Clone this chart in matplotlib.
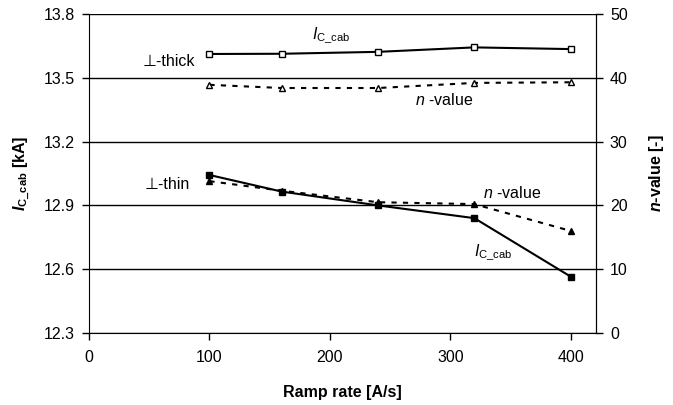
import matplotlib.pyplot as plt

plt.rcParams['font.family'] = ['Liberation Sans', 'DejaVu Sans']
plt.rcParams['mathtext.fontset'] = 'custom'
plt.rcParams['mathtext.rm'] = 'Liberation Sans'
plt.rcParams['mathtext.it'] = 'Liberation Sans:italic'
plt.rcParams['mathtext.bf'] = 'Liberation Sans:bold'
plt.rcParams['mathtext.bfit'] = 'Liberation Sans:bold:italic'

ramp = [100, 160, 240, 320, 400]
ic_thick = [13.612, 13.613, 13.622, 13.643, 13.635]
n_thick = [38.9, 38.4, 38.4, 39.2, 39.3]
ic_thin = [13.043, 12.965, 12.900, 12.840, 12.565]
n_thin = [23.8, 22.3, 20.5, 20.2, 16.0]

fig = plt.figure(figsize=(6.73, 4.05), dpi=100)
ax = fig.add_axes([89 / 673, 1 - 333 / 405, (596 - 89) / 673, (333 - 14) / 405])
ax2 = ax.twinx()

ax.plot(ramp, ic_thick, color='black', lw=1.5, marker='s', ms=4.5,
        mfc='white', mec='black', mew=1, zorder=3)
ax.plot(ramp, ic_thin, color='black', lw=1.5, marker='s', ms=4.5,
        mfc='black', mec='black', zorder=3)
ax2.plot(ramp, n_thick, color='black', lw=1.5, ls=(0, (2.5, 3)), marker='^',
         ms=5, mfc='white', mec='black', mew=1, zorder=3)
ax2.plot(ramp, n_thin, color='black', lw=1.5, ls=(0, (2.5, 3)), marker='^',
         ms=5, mfc='black', mec='black', zorder=3)

ax.set_xlim(0, 421)
ax.set_ylim(12.3, 13.8)
ax.set_yticks([12.3, 12.6, 12.9, 13.2, 13.5, 13.8])
ax.set_xticks([0, 100, 200, 300, 400])
ax2.set_ylim(0, 50)
ax2.set_yticks([0, 10, 20, 30, 40, 50])

ax.yaxis.grid(True, color='black', lw=1)
ax.set_axisbelow(True)
for a in (ax, ax2):
    a.spines['top'].set_visible(False)
    a.tick_params(direction='out', length=5, width=1, labelsize=11.5,
                  color='black', pad=5)
ax.tick_params(axis='x', pad=7)
ax2.spines['left'].set_visible(False)
ax2.spines['bottom'].set_visible(False)

ax.set_xlabel('Ramp rate [A/s]', fontsize=11.5, fontweight='bold', labelpad=15)
ax.set_ylabel(r'$\mathbfit{I}_{\mathbf{C\_cab}}$ [kA]', fontsize=11.5,
              fontweight='bold', labelpad=8)
ax2.set_ylabel(r'$\mathbfit{n}$-value [-]', fontsize=11.5, fontweight='bold',
               labelpad=14)

fs = 11.5
ax.text(66, 13.575, '\u22a5-thick', fontsize=fs, ha='center', va='center')
ax.text(65, 12.996, '\u22a5-thin', fontsize=fs, ha='center', va='center')
ax.text(185, 13.70, r'$\mathit{I}_{\mathrm{C\_cab}}$', fontsize=fs, ha='left', va='center')
ax.text(320, 12.68, r'$\mathit{I}_{\mathrm{C\_cab}}$', fontsize=fs, ha='left', va='center')
ax2.text(295, 36.5, r'$\mathit{n}$ -value', fontsize=fs, ha='center', va='center')
ax2.text(351, 21.9, r'$\mathit{n}$ -value', fontsize=fs, ha='center', va='center')

fig.savefig('out.png', dpi=100)
